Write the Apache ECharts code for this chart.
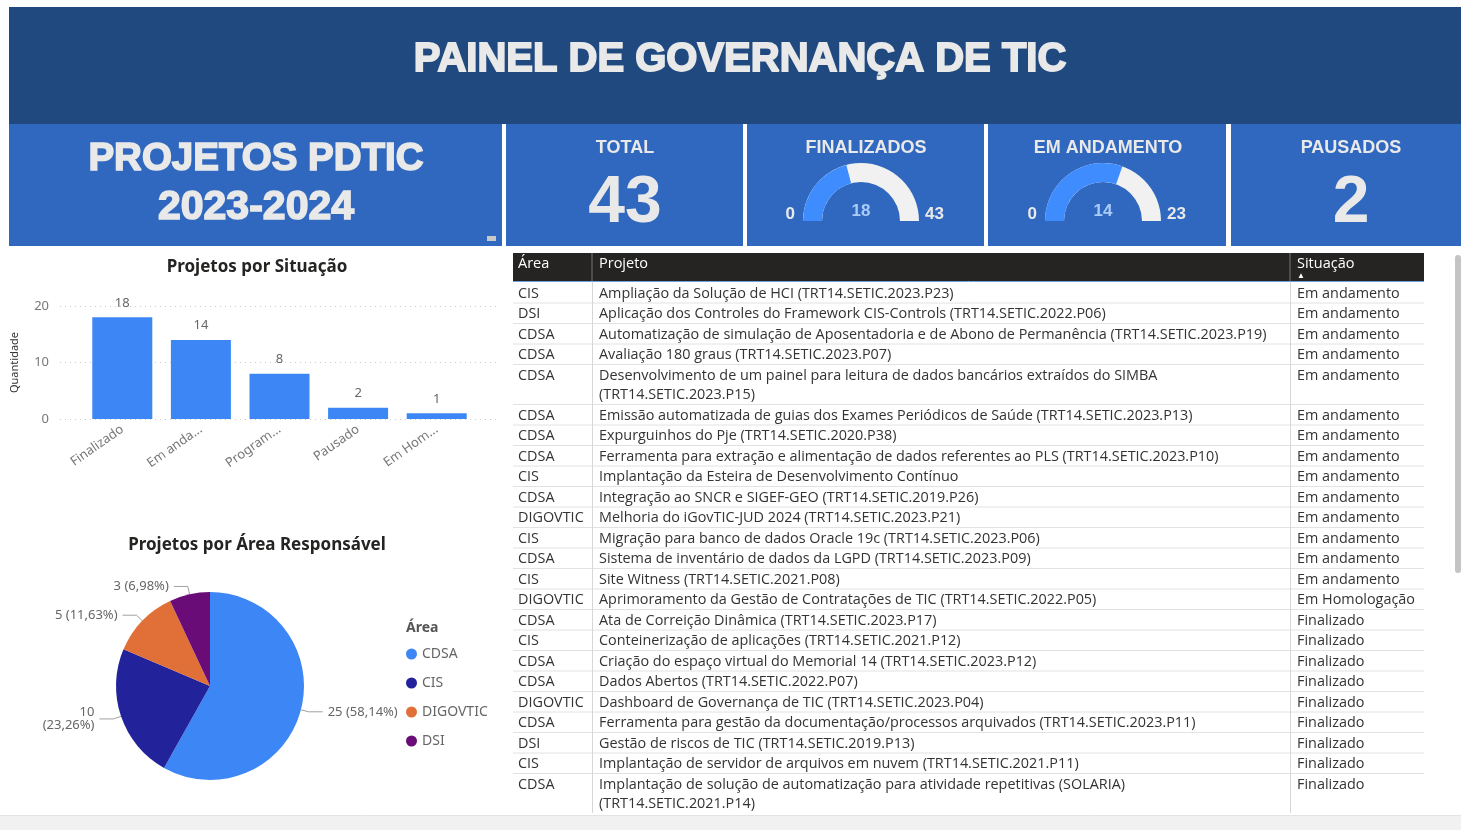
<!DOCTYPE html>
<html>
<head>
<meta charset="utf-8">
<title>Painel de Governança de TIC</title>
<script src="https://cdn.jsdelivr.net/npm/echarts@6/dist/echarts.min.js"></script>
<style>
html,body{margin:0;padding:0;background:#fff;overflow:hidden;}
#painel{width:1461px;height:830px;}
</style>
</head>
<body>
<div id="painel"></div>
<script>
// ---- dados ----
var situacoes = ['Finalizado', 'Em andamento', 'Programado', 'Pausado', 'Em Homologação'];
var situacoesRotulo = ['Finalizado', 'Em anda...', 'Program...', 'Pausado', 'Em Hom...'];
var qtdSituacao = [18, 14, 8, 2, 1];

var areas = ['CDSA', 'CIS', 'DIGOVTIC', 'DSI'];
var qtdArea = [25, 10, 5, 3];

var kpiTotal = 43;
var kpiFinalizados = 18, kpiFinalizadosMax = 43;
var kpiAndamento = 14, kpiAndamentoMax = 23;
var kpiPausados = 2;

var tabArea = ['CIS', 'DSI', 'CDSA', 'CDSA', 'CDSA', 'CDSA', 'CDSA', 'CDSA', 'CIS', 'CDSA', 'DIGOVTIC', 'CIS',
    'CDSA', 'CIS', 'DIGOVTIC', 'CDSA', 'CIS', 'CDSA', 'CDSA', 'DIGOVTIC', 'CDSA', 'DSI', 'CIS', 'CDSA'];
var tabProjeto = [
    'Ampliação da Solução de HCI (TRT14.SETIC.2023.P23)',
    'Aplicação dos Controles do Framework CIS-Controls (TRT14.SETIC.2022.P06)',
    'Automatização de simulação de Aposentadoria e de Abono de Permanência (TRT14.SETIC.2023.P19)',
    'Avaliação 180 graus (TRT14.SETIC.2023.P07)',
    'Desenvolvimento de um painel para leitura de dados bancários extraídos do SIMBA (TRT14.SETIC.2023.P15)',
    'Emissão automatizada de guias dos Exames Periódicos de Saúde (TRT14.SETIC.2023.P13)',
    'Expurguinhos do Pje (TRT14.SETIC.2020.P38)',
    'Ferramenta para extração e alimentação de dados referentes ao PLS (TRT14.SETIC.2023.P10)',
    'Implantação da Esteira de Desenvolvimento Contínuo',
    'Integração ao SNCR e SIGEF-GEO (TRT14.SETIC.2019.P26)',
    'Melhoria do iGovTIC-JUD 2024 (TRT14.SETIC.2023.P21)',
    'Migração para banco de dados Oracle 19c (TRT14.SETIC.2023.P06)',
    'Sistema de inventário de dados da LGPD (TRT14.SETIC.2023.P09)',
    'Site Witness (TRT14.SETIC.2021.P08)',
    'Aprimoramento da Gestão de Contratações de TIC (TRT14.SETIC.2022.P05)',
    'Ata de Correição Dinâmica (TRT14.SETIC.2023.P17)',
    'Conteinerização de aplicações (TRT14.SETIC.2021.P12)',
    'Criação do espaço virtual do Memorial 14 (TRT14.SETIC.2023.P12)',
    'Dados Abertos (TRT14.SETIC.2022.P07)',
    'Dashboard de Governança de TIC (TRT14.SETIC.2023.P04)',
    'Ferramenta para gestão da documentação/processos arquivados (TRT14.SETIC.2023.P11)',
    'Gestão de riscos de TIC (TRT14.SETIC.2019.P13)',
    'Implantação de servidor de arquivos em nuvem (TRT14.SETIC.2021.P11)',
    'Implantação de solução de automatização para atividade repetitivas (SOLARIA) (TRT14.SETIC.2021.P14)'
];
var tabSituacao = ['Em andamento', 'Em andamento', 'Em andamento', 'Em andamento', 'Em andamento', 'Em andamento',
    'Em andamento', 'Em andamento', 'Em andamento', 'Em andamento', 'Em andamento', 'Em andamento', 'Em andamento',
    'Em andamento', 'Em Homologação', 'Finalizado', 'Finalizado', 'Finalizado', 'Finalizado', 'Finalizado',
    'Finalizado', 'Finalizado', 'Finalizado', 'Finalizado'];

// ---- estilo ----
var azulEscuro = '#1F497F';
var azulCard = '#3068BF';
var azulBarra = '#3C87F5';
var coresArea = ['#3C87F5', '#22229A', '#E07038', '#6A0C78'];
var txtClaro = '#E9E9E9';
var fonteTit = '"Liberation Sans", Arial, sans-serif';
var fonteTab = '"Open Sans", "Noto Sans", sans-serif';
var tamTab = 14.4;

var graficos = [];

function texto(t, x, y, size, weight, cor, align, extra) {
    var s = {
        text: t, x: x, y: y, fontSize: size, fontWeight: weight || 'normal',
        fontFamily: extra && extra.fam ? extra.fam : fonteTit,
        fill: cor, align: align || 'center', verticalAlign: 'middle'
    };
    if (extra && extra.stroke) { s.stroke = cor; s.lineWidth = extra.stroke; }
    graficos.push({ type: 'text', z: 10, silent: true, style: s });
}
function retangulo(x, y, w, h, cor, z, r) {
    graficos.push({ type: 'rect', z: z || 0, silent: true, shape: { x: x, y: y, width: w, height: h, r: r || 0 }, style: { fill: cor } });
}
function linha(x1, y1, x2, y2, cor, z) {
    graficos.push({ type: 'line', z: z || 5, silent: true, shape: { x1: x1, y1: y1, x2: x2, y2: y2 }, style: { stroke: cor, lineWidth: 1 } });
}

// cabeçalho
retangulo(9, 7, 1452, 117, azulEscuro);
texto('PAINEL DE GOVERNANÇA DE TIC', 740, 60, 40, 'bold', txtClaro, 'center', { stroke: 1.8 });

// cards
var cards = [[9, 502], [506, 743], [747, 984], [988, 1226], [1231, 1461]];
cards.forEach(function (c) { retangulo(c[0], 124, c[1] - c[0], 122, azulCard); });
texto('PROJETOS PDTIC', 256, 159, 38.5, 'bold', txtClaro, 'center', { stroke: 1.6 });
texto('2023-2024', 256, 208, 41, 'bold', txtClaro, 'center', { stroke: 1.6 });
retangulo(487, 236, 9, 5, '#C9C9C9', 1);
texto('TOTAL', 625, 148, 18, 'bold', txtClaro);
texto(String(kpiTotal), 625, 204, 66, 'bold', txtClaro);
texto('FINALIZADOS', 866, 148, 18, 'bold', txtClaro);
texto('EM ANDAMENTO', 1108, 148, 18, 'bold', txtClaro);
texto('PAUSADOS', 1351, 148, 18, 'bold', txtClaro);
texto(String(kpiPausados), 1351, 204, 66, 'bold', txtClaro);

// gauges
var gaugeR = 58, gaugeY = 221;
var gauges = [
    { cx: 861, valor: kpiFinalizados, max: kpiFinalizadosMax },
    { cx: 1103, valor: kpiAndamento, max: kpiAndamentoMax }
];
gauges.forEach(function (g) {
    texto('0', g.cx - gaugeR - 8, gaugeY - 7, 17, 'bold', txtClaro, 'right');
    texto(String(g.max), g.cx + gaugeR + 6, gaugeY - 7, 17, 'bold', txtClaro, 'left');
});

// titulos dos graficos
texto('Projetos por Situação', 257, 267, 17, 'bold', '#252423', 'center', { fam: '"Noto Sans", sans-serif' });
texto('Projetos por Área Responsável', 257, 545, 17, 'bold', '#252423', 'center', { fam: '"Noto Sans", sans-serif' });
texto('Área', 406, 628, 14, 'bold', '#555', 'left', { fam: '"Noto Sans", sans-serif' });

// ---- tabela ----
var tabX = 513, tabW = 911, col1 = 592, col2 = 1290, tabFim = 813;
retangulo(tabX, 253, tabW, 28, '#252423', 1);
linha(col1, 253, col1, 281, '#777');
linha(col2, 253, col2, 281, '#777');
linha(tabX, 281.5, tabX + tabW, 281.5, '#6FA3E0');
texto('Área', 518, 264, 14.5, 'normal', '#fff', 'left', { fam: fonteTab });
texto('Projeto', 599, 264, 14.5, 'normal', '#fff', 'left', { fam: fonteTab });
texto('Situação', 1297, 264, 14.5, 'normal', '#fff', 'left', { fam: fonteTab });
texto('▲', 1297, 276, 8, 'normal', '#fff', 'left', { fam: fonteTab });

var ctx = document.createElement('canvas').getContext('2d');
ctx.font = tamTab + 'px ' + fonteTab;
function quebra(t, larg) {
    var palavras = t.split(' '), linhas = [], atual = '';
    palavras.forEach(function (p) {
        var teste = atual ? atual + ' ' + p : p;
        if (ctx.measureText(teste).width > larg && atual) {
            linhas.push(atual);
            atual = p;
        } else {
            atual = teste;
        }
    });
    linhas.push(atual);
    return linhas;
}

var y = 283;
for (var i = 0; i < tabProjeto.length && y < tabFim; i++) {
    var linhas = quebra(tabProjeto[i], 676);
    var h = 20.5 + 19.5 * (linhas.length - 1);
    texto(tabArea[i], 518, y + 10.5, tamTab, 'normal', '#333', 'left', { fam: fonteTab });
    linhas.forEach(function (l, k) {
        texto(l, 599, y + 10.5 + k * 19.5, tamTab, 'normal', '#333', 'left', { fam: fonteTab });
    });
    texto(tabSituacao[i], 1297, y + 10.5, tamTab, 'normal', '#333', 'left', { fam: fonteTab });
    y += h;
    if (y < tabFim) linha(tabX, y - 0.5, tabX + tabW, y - 0.5, '#E2E2E2');
}
linha(col1 + 0.5, 282, col1 + 0.5, tabFim, '#D6D6D6');
linha(col2 + 0.5, 282, col2 + 0.5, tabFim, '#D6D6D6');

// barra de rolagem e rodape
retangulo(1455, 255, 6, 318, '#C4C4C4', 6, 3);
retangulo(0, 816, 1461, 14, '#F1F1F1', 20);
linha(0, 815.5, 1461, 815.5, '#E3E3E3', 21);

// ---- echarts ----
var painel = echarts.init(document.getElementById('painel'), null, { renderer: 'canvas' });

var totalArea = qtdArea.reduce(function (a, b) { return a + b; }, 0);

var gaugeSeries = gauges.map(function (g) {
    return {
        type: 'gauge',
        center: [g.cx, gaugeY],
        radius: gaugeR,
        startAngle: 180,
        endAngle: 0,
        min: 0,
        max: g.max,
        z: 3,
        progress: { show: true, width: 19, itemStyle: { color: '#3F8CFF' } },
        axisLine: { lineStyle: { width: 19, color: [[1, '#F1F1F1']] } },
        axisTick: { show: false },
        splitLine: { show: false },
        axisLabel: { show: false },
        pointer: { show: false },
        anchor: { show: false },
        title: { show: false },
        detail: {
            offsetCenter: [0, -10],
            fontSize: 17,
            fontFamily: fonteTit,
            color: '#A9CCF8',
            formatter: '{value}'
        },
        data: [{ value: g.valor }]
    };
});

var option = {
    backgroundColor: '#fff',
    animation: false,
    textStyle: { fontFamily: '"Noto Sans", sans-serif' },
    graphic: { elements: graficos },
    grid: [
        { left: 60, width: 440, top: 306, height: 113 },
        { left: 83, width: 393, top: 306, height: 113 }
    ],
    xAxis: [
        { gridIndex: 0, type: 'value', show: false },
        {
            gridIndex: 1, type: 'category', data: situacoes,
            axisLine: { show: false }, axisTick: { show: false },
            axisLabel: {
                rotate: 35, margin: 9, color: '#777', fontSize: 13,
                formatter: function (v, idx) { return situacoesRotulo[idx]; }
            }
        }
    ],
    yAxis: [
        {
            gridIndex: 0, type: 'value', min: 0, max: 20, interval: 10,
            name: 'Quantidade', nameLocation: 'middle', nameGap: 40,
            nameTextStyle: { color: '#333', fontSize: 11 },
            axisLine: { show: false }, axisTick: { show: false },
            axisLabel: { color: '#777', fontSize: 13, margin: 11 },
            splitLine: { lineStyle: { color: '#C9C9C9', type: [1, 4] } }
        },
        { gridIndex: 1, type: 'value', min: 0, max: 20, show: false, splitLine: { show: false } }
    ],
    legend: {
        orient: 'vertical',
        left: 401,
        top: 642,
        icon: 'circle',
        itemWidth: 11,
        itemHeight: 11,
        itemGap: 15,
        textStyle: { color: '#666', fontSize: 14 },
        data: areas
    },
    series: [
        {
            type: 'bar',
            xAxisIndex: 1,
            yAxisIndex: 1,
            barWidth: 60,
            itemStyle: { color: azulBarra },
            label: { show: true, position: 'top', distance: 8, color: '#666', fontSize: 13 },
            data: qtdSituacao
        },
        {
            type: 'pie',
            center: [210, 686],
            radius: 94,
            startAngle: 90,
            clockwise: true,
            label: {
                color: '#666',
                fontSize: 13,
                formatter: function (p) {
                    // arredonda cada fatia (como no Power BI) e usa virgula decimal
                    var pct = (p.value / totalArea * 100).toFixed(2).replace('.', ',');
                    return p.value + (p.dataIndex === 1 ? '\n' : ' ') + '(' + pct + '%)';
                }
            },
            labelLine: { length: 8, length2: 14, lineStyle: { color: '#A0A0A0' } },
            data: areas.map(function (a, i) {
                return { name: a, value: qtdArea[i], itemStyle: { color: coresArea[i] } };
            })
        }
    ].concat(gaugeSeries)
};

painel.setOption(option);
</script>
</body>
</html>
